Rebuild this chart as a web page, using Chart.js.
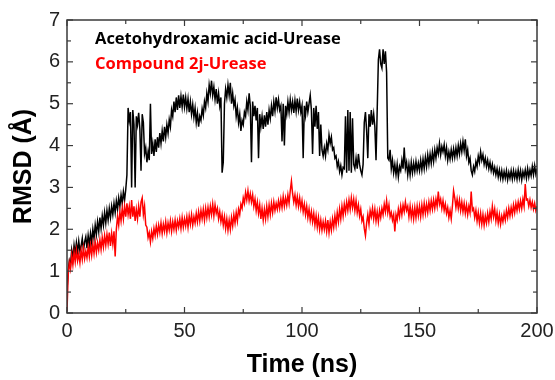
<!DOCTYPE html>
<html>
<head>
<meta charset="utf-8">
<script src="https://cdn.jsdelivr.net/npm/chart.js@4/dist/chart.umd.min.js"></script>
<style>
  html, body { margin: 0; padding: 0; background: #fff; }
  canvas { display: block; }
</style>
</head>
<body>
<canvas id="rmsdChart" width="555" height="380"></canvas>
<script>
// RMSD values (Å), one every 0.5 ns
const rmsdAHA = [
    0.55, 1.00, 1.25, 1.15, 1.50, 1.30, 1.62, 1.40, 1.68, 1.45, 1.72, 1.48, 1.60, 1.78, 1.50, 1.70, 1.82, 1.55, 1.85, 1.62,
    1.90, 1.68, 2.00, 1.78, 2.10, 1.88, 2.18, 1.95, 2.28, 2.02, 2.32, 2.10, 2.40, 2.15, 2.45, 2.22, 2.50, 2.28, 2.55, 2.35,
    2.62, 2.40, 2.68, 2.48, 2.75, 2.55, 2.82, 2.62, 2.90, 2.70, 2.95, 3.30, 4.90, 4.60, 4.80, 3.00, 4.85, 4.50, 3.00, 4.70,
    4.50, 4.78, 4.40, 3.40, 4.75, 4.55, 3.80, 3.95, 3.60, 3.85, 3.65, 5.00, 3.80, 4.05, 3.75, 4.15, 3.85, 4.20, 3.95, 4.30,
    4.05, 4.35, 4.10, 4.45, 4.20, 4.50, 4.30, 4.62, 4.45, 4.85, 4.70, 5.05, 4.80, 5.15, 4.85, 5.20, 4.90, 5.18, 4.92, 5.22,
    4.92, 5.15, 4.88, 5.12, 4.80, 5.05, 4.75, 4.98, 4.68, 4.90, 4.55, 4.78, 4.45, 4.70, 4.60, 4.88, 4.72, 5.05, 4.90, 5.25,
    5.05, 5.45, 5.25, 5.55, 5.20, 5.40, 5.10, 5.35, 5.00, 5.25, 4.95, 5.15, 3.35, 3.60, 5.00, 5.35, 5.15, 5.45, 5.20, 5.50,
    5.00, 5.25, 4.95, 5.10, 4.70, 4.90, 4.55, 4.75, 4.35, 4.60, 4.50, 4.80, 4.70, 5.05, 4.85, 5.25, 4.95, 3.60, 5.05, 4.70,
    4.95, 4.60, 4.90, 3.70, 4.75, 4.45, 4.70, 4.40, 4.72, 4.45, 4.80, 4.50, 4.85, 4.65, 4.95, 4.70, 5.05, 4.82, 5.15, 4.90,
    5.10, 4.85, 4.95, 4.10, 5.00, 4.00, 4.95, 4.75, 5.05, 4.80, 5.10, 4.85, 5.05, 4.78, 5.08, 4.82, 5.12, 4.85, 5.05, 4.80,
    4.95, 3.70, 4.95, 4.72, 5.05, 4.80, 5.00, 5.20, 4.85, 3.80, 4.90, 4.45, 4.95, 4.40, 4.80, 3.75, 4.50, 3.90, 3.75, 3.95,
    3.75, 4.05, 3.90, 4.25, 4.05, 4.20, 3.90, 3.95, 3.70, 3.75, 3.50, 3.62, 3.38, 3.52, 3.30, 3.48, 3.45, 4.70, 3.35, 4.85,
    3.40, 4.80, 3.35, 4.65, 3.55, 3.45, 3.70, 3.45, 3.80, 3.55, 3.40, 3.30, 3.55, 4.55, 4.80, 4.35, 3.70, 4.75, 4.45, 4.85,
    4.50, 4.75, 4.45, 3.65, 4.85, 6.05, 6.30, 5.95, 5.85, 6.30, 5.95, 6.25, 5.75, 3.70, 3.65, 3.90, 3.45, 3.65, 3.35, 3.55,
    3.30, 3.55, 3.25, 3.50, 3.40, 3.65, 3.45, 3.95, 3.45, 3.60, 3.30, 3.55, 3.30, 3.60, 3.35, 3.58, 3.38, 3.62, 3.40, 3.58,
    3.40, 3.65, 3.42, 3.68, 3.45, 3.72, 3.50, 3.78, 3.55, 3.80, 3.58, 3.85, 3.62, 3.90, 3.70, 3.95, 3.80, 4.05, 3.78, 3.98,
    3.85, 4.02, 3.75, 3.95, 3.65, 3.85, 3.68, 3.90, 3.70, 3.92, 3.72, 3.95, 3.75, 4.00, 3.80, 4.05, 3.85, 4.10, 3.88, 4.15,
    3.75, 3.90, 3.60, 3.70, 3.40, 3.30, 3.50, 3.38, 3.62, 3.50, 3.75, 3.60, 3.85, 3.65, 3.78, 3.55, 3.70, 3.50, 3.65, 3.45,
    3.60, 3.40, 3.55, 3.35, 3.48, 3.30, 3.45, 3.25, 3.42, 3.22, 3.40, 3.20, 3.38, 3.22, 3.40, 3.18, 3.36, 3.22, 3.40, 3.20,
    3.40, 3.22, 3.38, 3.20, 3.42, 3.22, 3.40, 3.18, 3.38, 3.25, 3.42, 3.22, 3.45, 3.25, 3.42, 3.28, 3.50, 3.30, 3.52, 3.32,
    3.45
];

const rmsd2j = [
    0.05, 0.90, 1.20, 1.05, 1.38, 1.15, 1.45, 1.22, 1.50, 1.25, 1.42, 1.20, 1.50, 1.28, 1.55, 1.30, 1.48, 1.32, 1.58, 1.35,
    1.62, 1.38, 1.65, 1.42, 1.70, 1.45, 1.68, 1.50, 1.75, 1.52, 1.80, 1.58, 1.85, 1.62, 1.88, 1.65, 1.92, 1.60, 1.90, 1.65,
    1.95, 1.35, 2.00, 2.30, 2.10, 2.42, 2.20, 2.50, 2.25, 2.55, 2.30, 2.62, 2.35, 2.55, 2.25, 2.70, 2.30, 2.55, 2.20, 2.48,
    2.25, 2.55, 2.30, 2.65, 2.75, 2.35, 2.55, 2.10, 2.05, 1.80, 1.92, 1.70, 1.95, 1.78, 2.02, 1.85, 2.08, 1.88, 2.10, 1.92,
    2.15, 1.90, 2.12, 1.95, 2.18, 1.92, 2.15, 1.98, 2.20, 1.95, 2.18, 2.00, 2.22, 1.98, 2.20, 2.05, 2.25, 2.02, 2.28, 2.05,
    2.25, 2.08, 2.30, 2.05, 2.32, 2.12, 2.35, 2.10, 2.30, 2.15, 2.38, 2.18, 2.42, 2.20, 2.45, 2.25, 2.48, 2.22, 2.50, 2.28,
    2.52, 2.30, 2.55, 2.35, 2.60, 2.32, 2.58, 2.38, 2.50, 2.25, 2.42, 2.18, 2.35, 2.10, 2.30, 2.02, 2.25, 1.98, 2.22, 2.00,
    2.28, 2.08, 2.35, 2.15, 2.40, 2.20, 2.48, 2.35, 2.60, 2.50, 2.75, 2.62, 2.88, 2.70, 2.92, 2.68, 2.85, 2.65, 2.82, 2.55,
    2.72, 2.45, 2.65, 2.38, 2.58, 2.25, 2.50, 2.22, 2.48, 2.25, 2.55, 2.30, 2.58, 2.35, 2.62, 2.40, 2.65, 2.45, 2.62, 2.48,
    2.68, 2.50, 2.72, 2.52, 2.78, 2.55, 2.75, 2.58, 2.82, 2.62, 2.92, 3.15, 2.85, 2.65, 2.82, 2.58, 2.78, 2.55, 2.75, 2.50,
    2.68, 2.42, 2.60, 2.35, 2.55, 2.28, 2.48, 2.22, 2.42, 2.18, 2.38, 2.10, 2.32, 2.05, 2.28, 2.00, 2.22, 1.98, 2.18, 2.00,
    2.20, 1.95, 2.22, 1.92, 2.18, 1.98, 2.25, 2.05, 2.32, 2.10, 2.40, 2.18, 2.48, 2.25, 2.55, 2.32, 2.60, 2.40, 2.65, 2.45,
    2.70, 2.48, 2.75, 2.52, 2.72, 2.45, 2.68, 2.40, 2.58, 2.32, 2.48, 2.20, 2.30, 2.02, 1.85, 2.15, 2.35, 2.12, 2.45, 2.30,
    2.50, 2.25, 2.48, 2.20, 2.42, 2.18, 2.45, 2.28, 2.50, 2.35, 2.60, 2.42, 2.68, 2.40, 2.58, 2.30, 2.40, 2.22, 2.35, 1.95,
    2.35, 2.22, 2.48, 2.30, 2.55, 2.35, 2.58, 2.42, 2.65, 2.45, 2.55, 2.30, 2.55, 2.28, 2.50, 2.25, 2.52, 2.28, 2.55, 2.32,
    2.55, 2.30, 2.58, 2.35, 2.62, 2.38, 2.60, 2.40, 2.65, 2.45, 2.68, 2.48, 2.70, 2.50, 2.72, 2.55, 2.90, 2.60, 2.72, 2.50,
    2.68, 2.45, 2.60, 2.38, 2.52, 2.28, 2.45, 2.25, 2.55, 2.92, 2.75, 2.52, 2.72, 2.50, 2.70, 2.45, 2.65, 2.42, 2.62, 2.38,
    2.58, 2.35, 2.55, 2.40, 2.90, 2.45, 2.50, 2.28, 2.45, 2.20, 2.40, 2.15, 2.38, 2.12, 2.35, 2.10, 2.32, 2.15, 2.38, 2.18,
    2.42, 2.25, 2.55, 2.30, 2.48, 2.20, 2.40, 2.15, 2.35, 2.12, 2.32, 2.18, 2.38, 2.22, 2.45, 2.28, 2.50, 2.32, 2.52, 2.35,
    2.58, 2.40, 2.62, 2.45, 2.65, 2.48, 2.68, 2.50, 2.72, 2.55, 3.08, 2.70, 2.72, 2.55, 2.70, 2.52, 2.65, 2.48, 2.62, 2.45,
    2.55
];

// sampling grid: 0.5 ns per frame
const timeNs = rmsdAHA.map((_, i) => i * 0.5);

const xTicks = [0, 50, 100, 150, 200];
const xMinorTicks = [25, 75, 125, 175];
const yTicks = [0, 1, 2, 3, 4, 5, 6, 7];
const yMinorTicks = [0.5, 1.5, 2.5, 3.5, 4.5, 5.5, 6.5];

const seriesNames = ['Acetohydroxamic acid-Urease', 'Compound 2j-Urease'];
const seriesColors = ['#000000', '#ff0000'];

// box frame, inward ticks, axis titles and the text legend
const framePlugin = {
    id: 'framePlugin',
    beforeDraw(chart) {
        const ctx = chart.ctx;
        ctx.save();
        ctx.fillStyle = '#fff';
        ctx.fillRect(0, 0, chart.width, chart.height);
        ctx.restore();
    },
    afterDraw(chart) {
        const { ctx, chartArea: a, scales: { x, y } } = chart;
        ctx.save();
        ctx.strokeStyle = '#3a3a3a';
        ctx.lineWidth = 1.5;
        ctx.strokeRect(a.left, a.top, a.right - a.left, a.bottom - a.top);

        ctx.lineWidth = 1.2;
        const tick = (x1, y1, x2, y2) => {
            ctx.beginPath();
            ctx.moveTo(x1, y1);
            ctx.lineTo(x2, y2);
            ctx.stroke();
        };
        xTicks.concat(xMinorTicks).forEach(v => {
            const px = x.getPixelForValue(v);
            const len = xTicks.includes(v) ? 6 : 4;
            tick(px, a.bottom, px, a.bottom - len);
            tick(px, a.top, px, a.top + len);
        });
        yTicks.concat(yMinorTicks).forEach(v => {
            const py = y.getPixelForValue(v);
            const len = yTicks.includes(v) ? 6 : 4;
            tick(a.left, py, a.left + len, py);
            tick(a.right, py, a.right - len, py);
        });

        // axis titles
        ctx.fillStyle = '#000';
        ctx.font = 'bold 25px "Liberation Sans", Arial, sans-serif';
        ctx.textAlign = 'center';
        ctx.textBaseline = 'middle';
        ctx.fillText('Time (ns)', (a.left + a.right) / 2, 365);
        ctx.save();
        ctx.translate(24, (a.top + a.bottom) / 2);
        ctx.rotate(-Math.PI / 2);
        ctx.fillText('RMSD (Å)', 0, 0);
        ctx.restore();

        // legend text
        ctx.font = 'bold 16.5px "Open Sans", sans-serif';
        ctx.textAlign = 'left';
        ctx.textBaseline = 'alphabetic';
        ctx.fillStyle = seriesColors[0];
        ctx.fillText(seriesNames[0], 95, 44);
        ctx.fillStyle = seriesColors[1];
        ctx.fillText(seriesNames[1], 95, 69);
        ctx.restore();
    }
};

new Chart(document.getElementById('rmsdChart'), {
    type: 'line',
    data: {
        labels: timeNs,
        datasets: [
            {
                label: seriesNames[1],
                data: rmsd2j,
                borderColor: seriesColors[1],
                borderWidth: 1.5,
                pointRadius: 0,
                tension: 0,
                order: 1
            },
            {
                label: seriesNames[0],
                data: rmsdAHA,
                borderColor: seriesColors[0],
                borderWidth: 1.5,
                pointRadius: 0,
                tension: 0,
                order: 2
            }
        ]
    },
    options: {
        responsive: false,
        animation: false,
        layout: { padding: { top: 20, right: 18, left: 0, bottom: 0 } },
        plugins: {
            legend: { display: false },
            tooltip: { enabled: false }
        },
        scales: {
            x: {
                type: 'linear',
                min: 0,
                max: 200,
                afterBuildTicks: s => { s.ticks = xTicks.map(v => ({ value: v })); },
                afterFit: s => { s.height = 67; s.paddingLeft = 0; s.paddingRight = 0; },
                ticks: {
                    color: '#222',
                    padding: 6,
                    maxRotation: 0,
                    font: { family: '"Liberation Sans", Arial, sans-serif', size: 20 }
                },
                grid: { display: false, drawTicks: false },
                border: { display: false }
            },
            y: {
                min: 0,
                max: 7,
                afterBuildTicks: s => { s.ticks = yTicks.map(v => ({ value: v })); },
                afterFit: s => { s.width = 67; s.paddingTop = 0; s.paddingBottom = 0; },
                ticks: {
                    color: '#222',
                    padding: 7,
                    font: { family: '"Liberation Sans", Arial, sans-serif', size: 20 }
                },
                grid: { display: false, drawTicks: false },
                border: { display: false }
            }
        }
    },
    plugins: [framePlugin]
});
</script>
</body>
</html>
